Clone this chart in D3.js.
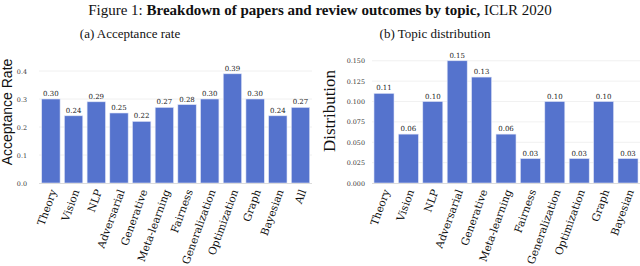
<!DOCTYPE html>
<html><head><meta charset="utf-8">
<script src="https://cdn.jsdelivr.net/npm/d3@7"></script>
<style>
body{margin:0;background:#fff;}
svg{display:block;}
</style></head>
<body><svg id="c" width="640" height="266"></svg>
<script>
const catsA = ["Theory","Vision","NLP","Adversarial","Generative","Meta-learning","Fairness","Generalization","Optimization","Graph","Bayesian","All"];
const valsA = [0.30,0.24,0.29,0.25,0.22,0.27,0.28,0.30,0.39,0.30,0.24,0.27];
const ticksA = [0.0,0.1,0.2,0.3,0.4];
const catsB = ["Theory","Vision","NLP","Adversarial","Generative","Meta-learning","Fairness","Generalization","Optimization","Graph","Bayesian"];
const valsB = [0.11,0.06,0.10,0.15,0.13,0.06,0.03,0.10,0.03,0.10,0.03];
const ticksB = [0.000,0.025,0.050,0.075,0.100,0.125,0.150];

const svg = d3.select("#c");
const barColor = "#5573cd";
const serif = "'DejaVu Serif', serif";

// Title
const t = svg.append("text").attr("x",320).attr("y",15).attr("text-anchor","middle")
  .style("font-family","'Liberation Serif', serif").style("font-size","15px").attr("fill","#111");
t.append("tspan").text("Figure 1: ");
t.append("tspan").attr("font-weight","bold").text("Breakdown of papers and review outcomes by topic,");
t.append("tspan").text(" ICLR 2020");

function panel(cfg){
  const g = svg.append("g");
  const x = d3.scaleBand().domain(cfg.cats).range(cfg.xr).paddingInner(cfg.pad).paddingOuter(cfg.pad);
  const y = d3.scaleLinear().domain(cfg.yd).range([183, cfg.ytop]);
  // subtitle
  g.append("text").attr("x",cfg.subX).attr("y",38).attr("text-anchor","middle")
    .style("font-family","'Liberation Serif', serif").style("font-size","13px").attr("fill","#111").text(cfg.sub);
  // grid
  g.append("g").selectAll("line").data(cfg.ticks.slice(1)).join("line")
    .attr("x1",cfg.gx[0]).attr("x2",cfg.gx[1]).attr("y1",d=>y(d)).attr("y2",d=>y(d))
    .attr("stroke","#ececec").attr("stroke-width",0.8);
  // y axis
  const ya = d3.axisLeft(y).tickValues(cfg.ticks).tickFormat(d3.format(cfg.fmt)).tickSize(0).tickPadding(cfg.tp);
  const yg = g.append("g").attr("transform",`translate(${cfg.gx[0]},0)`).call(ya);
  yg.select(".domain").remove();
  yg.selectAll("text").style("font-family",serif).style("font-size","6.4px").attr("fill","#333");
  // bars
  g.append("g").selectAll("rect").data(cfg.vals).join("rect")
    .attr("x",(d,i)=>x(cfg.cats[i])).attr("width",x.bandwidth())
    .attr("y",d=>y(d)).attr("height",d=>y(0)-y(d))
    .attr("fill",barColor).attr("stroke","#dfe5f7").attr("stroke-width",0.6);
  // baseline
  g.append("line").attr("x1",cfg.gx[0]).attr("x2",cfg.gx[1]).attr("y1",y(0)+0.5).attr("y2",y(0)+0.5)
    .attr("stroke","#dcdcdc").attr("stroke-width",1);
  // value labels
  g.append("g").selectAll("text").data(cfg.vals).join("text")
    .attr("x",(d,i)=>x(cfg.cats[i])+x.bandwidth()/2).attr("y",d=>y(d)-3)
    .attr("text-anchor","middle").style("font-family",serif).style("font-size","7px")
    .attr("fill","#222").text(d=>d3.format(".2f")(d));
  // x axis
  const xa = d3.axisBottom(x).tickSize(0).tickPadding(0);
  const xg = g.append("g").attr("transform","translate(0,183)").call(xa);
  xg.select(".domain").remove();
  xg.selectAll("text").style("font-family",serif).style("font-size","10.6px").attr("fill","#111")
    .attr("text-anchor","end").attr("dy",null)
    .attr("transform","translate(6,8) rotate(-70)");
  // y title
  g.append("text").attr("transform",`translate(${cfg.ytx},${cfg.yty}) rotate(-90)`)
    .attr("text-anchor","middle").style("font-family",cfg.ytf).style("font-size",cfg.yts)
    .attr("fill","#111").text(cfg.ytitle);
}

panel({cats:catsA, vals:valsA, ticks:ticksA, xr:[37.4,314], pad:0.19, yd:[0,0.41], ytop:68.2,
  gx:[39,312], fmt:".1f", tp:12, sub:"(a) Acceptance rate", subX:130,
  ytitle:"Acceptance Rate", ytx:12, yty:112, ytf:"'Liberation Sans', sans-serif", yts:"14px"});
panel({cats:catsB, vals:valsB, ticks:ticksB, xr:[369.6,642.4], pad:0.18, yd:[0,0.155], ytop:56.7,
  gx:[372,640], fmt:".3f", tp:7, sub:"(b) Topic distribution", subX:435,
  ytitle:"Distribution", ytx:335, yty:111, ytf:"'Liberation Serif', serif", yts:"17px"});
</script></body></html>
